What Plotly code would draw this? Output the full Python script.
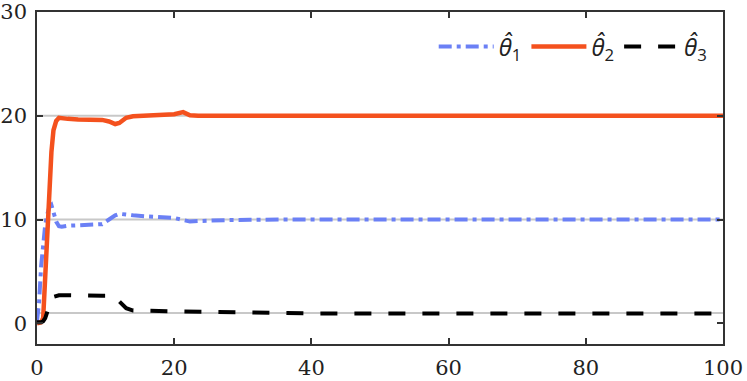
import plotly.graph_objects as go

# time samples (s)
t = [0, 0.3, 0.6, 0.9, 1.2, 1.5, 1.8, 2.1, 2.4, 2.8, 3.2, 3.6, 4.5, 6, 8, 9.5, 10.5,
     11.4, 12, 12.5, 13, 14, 16, 18, 20, 21.3, 22.3, 23.5, 25, 28, 31, 33, 36, 40,
     50, 60, 70, 80, 90, 100]

theta1 = [0.2, 2, 5.5, 8, 9.5, 10.5, 11.2, 11.4, 10.8, 9.8, 9.35, 9.3, 9.4, 9.45, 9.45,
          9.55, 10.0, 10.4, 10.55, 10.5, 10.45, 10.4, 10.3, 10.25, 10.15, 9.95, 9.8,
          9.85, 9.9, 9.95, 9.97, 10.0, 10.0, 10.0, 10.0, 10.0, 10.0, 10.0, 10.0, 10.0]

theta2 = [0, 0, 0.1, 0.5, 4.5, 10, 13.5, 16.5, 18.6, 19.5, 19.8, 19.75, 19.7, 19.65, 19.65,
          19.6, 19.45, 19.2, 19.3, 19.5, 19.8, 19.95, 20.0, 20.05, 20.15, 20.35, 20.05,
          20.0, 20.0, 19.97, 19.92, 20.0, 20.0, 20.0, 20.0, 20.0, 20.0, 20.0, 20.0, 20.0]

theta3 = [0.1, 0.1, 0.1, 0.2, 0.5, 1.1, 1.8, 2.3, 2.55, 2.65, 2.7, 2.7, 2.68, 2.65, 2.65,
          2.65, 2.65, 2.6, 2.1, 1.7, 1.45, 1.22, 1.2, 1.18, 1.17, 1.15, 1.1, 1.1, 1.08,
          1.05, 1.0, 0.97, 0.95, 0.95, 0.95, 0.95, 0.95, 0.95, 0.95, 0.95]

# true parameter values (grey reference lines)
true_vals = [1, 10, 20]

names = ["<i>θ\u0302</i><sub>1</sub>", "<i>θ\u0302</i><sub>2</sub>", "<i>θ\u0302</i><sub>3</sub>"]

fig = go.Figure()

for v in true_vals:
    fig.add_trace(go.Scatter(x=[0, 100], y=[v, v], mode="lines",
                             line=dict(color="#c8c8c8", width=2),
                             showlegend=False, hoverinfo="skip"))

fig.add_trace(go.Scatter(x=t, y=theta1, mode="lines", name=names[0],
                         line=dict(color="#6b80f5", width=4, dash="13px,5px,4px,5px")))
fig.add_trace(go.Scatter(x=t, y=theta2, mode="lines", name=names[1],
                         line=dict(color="#f4511e", width=4.5)))
fig.add_trace(go.Scatter(x=t, y=theta3, mode="lines", name=names[2],
                         line=dict(color="black", width=4, dash="17px,17px")))

axis_style = dict(showgrid=False, zeroline=False, showline=True, linecolor="#333333",
                  linewidth=1.5, mirror="ticks", ticks="inside", ticklen=6,
                  tickcolor="#333333", tickwidth=1.5, automargin=False,
                  ticklabeloverflow="allow")

fig.update_xaxes(range=[0, 100], tickvals=[0, 20, 40, 60, 80, 100], ticklabelstandoff=4,
                 **axis_style)
fig.update_yaxes(range=[-2, 30], tickvals=[0, 10, 20, 30], ticklabelstandoff=4, **axis_style)

fig.update_layout(
    width=747, height=381,
    margin=dict(l=37, r=24, t=12, b=37),
    paper_bgcolor="white", plot_bgcolor="white",
    font=dict(family="DejaVu Serif", size=21, color="#222222"),
    legend=dict(orientation="h", x=0.985, xanchor="right", y=0.895, yanchor="middle",
                bgcolor="rgba(0,0,0,0)", font=dict(family="Open Sans", size=24),
                itemwidth=55, tracegroupgap=0),
)

# drop the default page margin so the figure sits at the window's corner
fig.write_html("out.html", config={"displayModeBar": False},
               post_script="document.body.style.margin='0';")
